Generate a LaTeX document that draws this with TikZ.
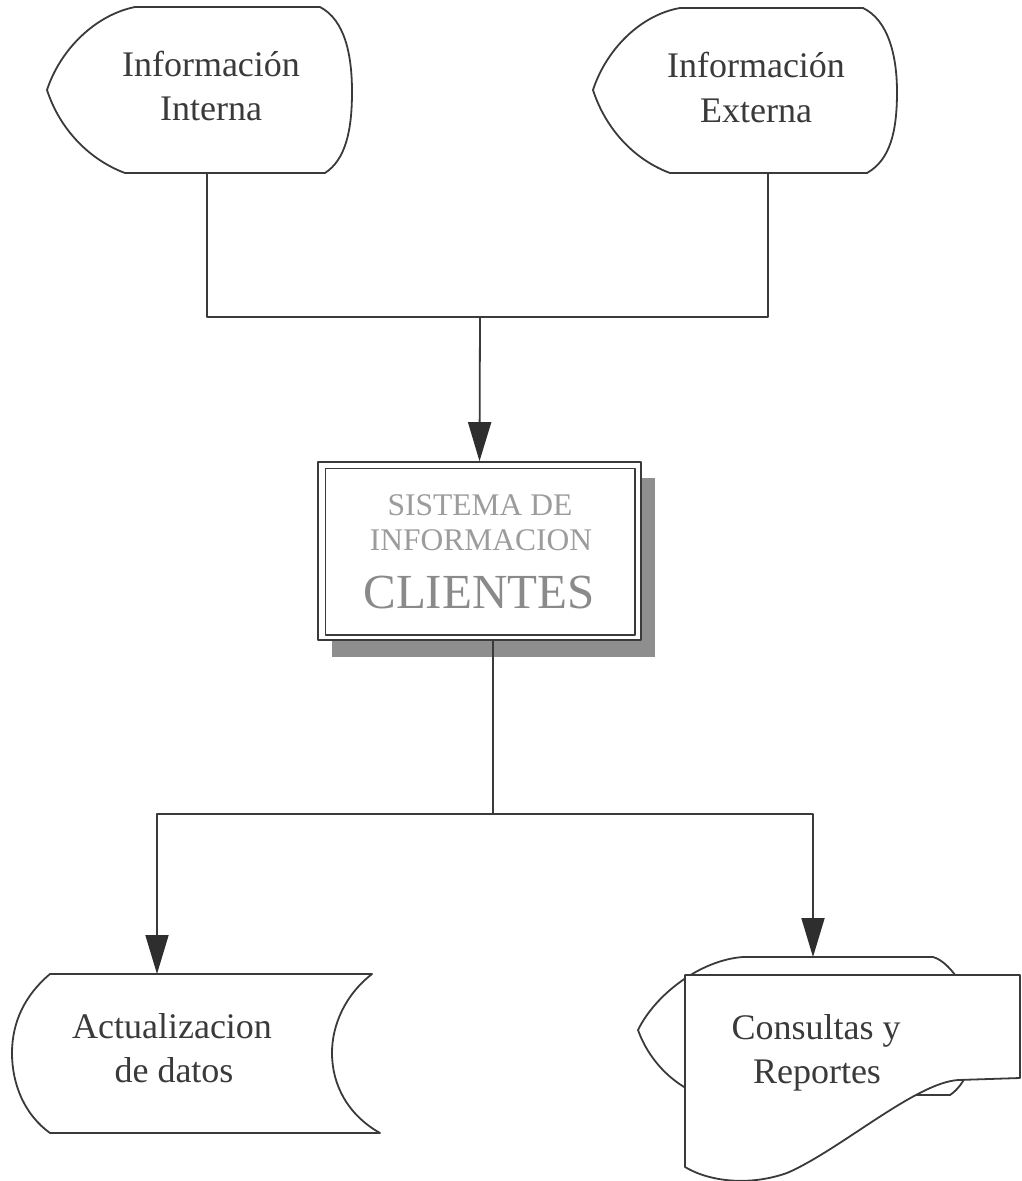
\documentclass[tikz,border=0pt]{standalone}
\usepackage{fontspec}
\setmainfont{Liberation Serif}
\usetikzlibrary{arrows.meta,backgrounds}
\definecolor{ink}{HTML}{3A3A3A}
\definecolor{tipink}{HTML}{2E2E2E}
\definecolor{shadowgrey}{HTML}{8E8E8E}
\definecolor{softtext}{HTML}{9C9C9C}
\definecolor{midtext}{HTML}{8A8A8A}
\begin{document}
\begin{tikzpicture}[x=1pt,y=-1pt,line join=round,
  shapeline/.style={draw=ink,line width=1.8pt,fill=white},
  link/.style={draw=ink,line width=1.8pt},
  flow/.style={link,-{Triangle[width=23pt,length=39pt,color=tipink]}},
  lbl/.style={font=\fontsize{36}{44}\selectfont,text=ink,inner sep=0pt,anchor=base},
  caplbl/.style={font=\fontsize{31.5}{36}\selectfont,text=softtext,inner sep=0pt,anchor=base},
  bigcap/.style={font=\fontsize{49}{56}\selectfont,text=midtext,inner sep=0pt,anchor=base}]
\useasboundingbox (0,0) rectangle (1022,1181);

% input displays
\draw[shapeline] (125,173) .. controls (90,160) and (60,130) .. (47,90)
  .. controls (60,50) and (95,15) .. (135,7) -- (320,7)
  .. controls (345,20) and (352,55) .. (352,92)
  .. controls (352,132) and (345,160) .. (325,173) -- cycle;
\draw[shapeline] (670,173) .. controls (635,160) and (606,130) .. (593,90)
  .. controls (606,50) and (640,15) .. (680,8) -- (863,8)
  .. controls (888,20) and (897,55) .. (897,92)
  .. controls (897,132) and (890,160) .. (867,173) -- cycle;
\coordinate (ii-b) at (207,173);
\coordinate (ie-b) at (768,173);

\node[lbl] (ii1) at (211,76) {Información};
\node[lbl] (ii2) at (211,120) {Interna};
\node[lbl] (ie1) at (756,77) {Información};
\node[lbl] (ie2) at (756,122) {Externa};

% central system box
\node[draw=ink,line width=1.6pt,fill=white,minimum width=323pt,
      minimum height=178pt,inner sep=0pt] (sys) at (479.5,551) {};
\begin{scope}[on background layer]
  \fill[shadowgrey] ([shift={(15pt,-16pt)}]sys.south west)
     rectangle ([shift={(13pt,-17pt)}]sys.north east);
\end{scope}
\draw[ink,line width=1.4pt] ([shift={(8pt,6pt)}]sys.south west)
  rectangle ([shift={(-7pt,-7pt)}]sys.north east);
\node[caplbl] (sys1) at (480,515) {SISTEMA DE};
\node[caplbl] (sys2) at (481,550) {INFORMACION};
\node[bigcap] (sys3) at (479,608) {CLIENTES};

% merge of inputs into the system
\coordinate (merge) at (480,317);
\draw[link] (ii-b) |- (merge) -| (ie-b);
\draw[flow] (merge) -- (sys.north);

% stored data output
\draw[shapeline] (50,974) -- (372,974)
  .. controls (345,995) and (332,1025) .. (332,1053)
  .. controls (332,1085) and (348,1115) .. (380,1133) -- (50,1133)
  .. controls (25,1115) and (12,1085) .. (12,1053)
  .. controls (12,1022) and (25,995) .. (50,974) -- cycle;
\coordinate (ad-top) at (157,974);
\node[lbl] (ad1) at (172,1038) {Actualizacion};
\node[lbl] (ad2) at (174,1082) {de datos};

% display behind the report document
\draw[shapeline] (743,957) -- (933,957)
  .. controls (952,962) and (975,1000) .. (975,1030)
  .. controls (975,1062) and (965,1085) .. (950,1095) -- (700,1095)
  .. controls (670,1083) and (648,1058) .. (638,1030)
  .. controls (655,995) and (700,960) .. (743,957) -- cycle;
\coordinate (cr-top) at (813,957);
% report document
\draw[shapeline] (685,975) -- (1020,975) -- (1020,1078) -- (958,1080)
  .. controls (915,1083) and (840,1150) .. (787,1173)
  .. controls (750,1186) and (710,1182) .. (685,1167) -- cycle;
\node[lbl] (cr1) at (816,1039) {Consultas y};
\node[lbl] (cr2) at (817,1083) {Reportes};

% distribution of the system outputs
\coordinate (sys-out) at (493,640);
\coordinate (split) at (493,814);
\draw[link] (sys-out) -- (split);
\draw[flow] (split) -| (ad-top);
\draw[flow] (split) -| (cr-top);
\end{tikzpicture}
\end{document}
